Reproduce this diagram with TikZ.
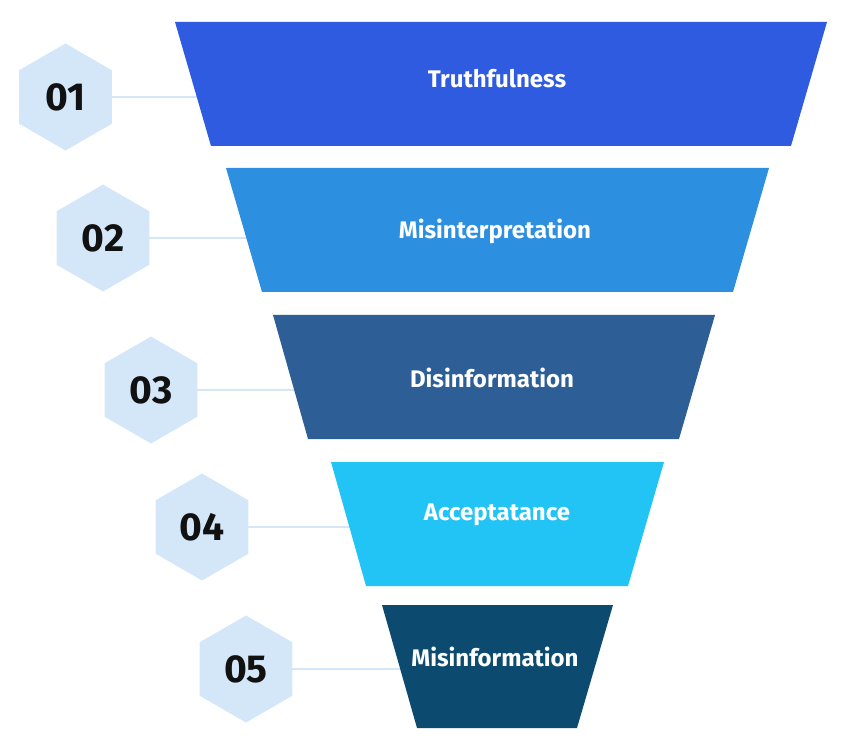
\documentclass[tikz,border=0pt]{standalone}
\usepackage{fontspec}
\setmainfont{Fira Sans}
\usetikzlibrary{shapes.geometric}
\pgfdeclarelayer{bg}
\pgfsetlayers{bg,main}

\definecolor{stageA}{HTML}{2E5BE0}
\definecolor{stageB}{HTML}{2D8FE0}
\definecolor{stageC}{HTML}{2D5F96}
\definecolor{stageD}{HTML}{22C4F5}
\definecolor{stageE}{HTML}{0D4A70}
\definecolor{hexfill}{HTML}{D4E7F9}
\definecolor{numtext}{HTML}{111111}

\tikzset{
  hexbadge/.style={regular polygon, regular polygon sides=6, shape border rotate=30,
    minimum size=107pt, inner sep=0pt, fill=hexfill, text=numtext,
    font=\fontsize{39}{39}\selectfont\bfseries},
  stagelabel/.style={text=white, inner sep=0pt, font=\fontsize{24}{24}\selectfont\bfseries},
  link/.style={draw=hexfill, line width=2pt}
}

\begin{document}
\begin{tikzpicture}[x=1pt,y=-1pt]
\useasboundingbox (0,0) rectangle (846,751);

% funnel stages
\fill[stageA] (175,22)  -- (827,22)  -- (791,146) -- (211,146) -- cycle;
\fill[stageB] (226,168) -- (769,168) -- (733,292) -- (262,292) -- cycle;
\fill[stageC] (273,315) -- (715,315) -- (679,439) -- (308,439) -- cycle;
\fill[stageD] (331,462) -- (664,462) -- (628,586) -- (366,586) -- cycle;
\fill[stageE] (382,605) -- (613,605) -- (577,728) -- (417,728) -- cycle;

% stage labels
\node[stagelabel] (t1) at (497,79)  {Truthfulness};
\node[stagelabel] (t2) at (495,231) {Misinterpretation};
\node[stagelabel] (t3) at (492,378) {Disinformation};
\node[stagelabel] (t4) at (497,515) {Acceptatance};
\node[stagelabel] (t5) at (495,657) {Misinformation};

% numbered badges
\node[hexbadge] (h1) at (65.5,97)  {01};
\node[hexbadge] (h2) at (103,238)  {02};
\node[hexbadge] (h3) at (151,390)  {03};
\node[hexbadge] (h4) at (202,527)  {04};
\node[hexbadge] (h5) at (246,669)  {05};

% connectors run behind the funnel
\begin{pgfonlayer}{bg}
  \foreach \i in {1,...,5}
    \draw[link] (h\i.center) -- (h\i.center -| t\i.center);
\end{pgfonlayer}
\end{tikzpicture}
\end{document}
